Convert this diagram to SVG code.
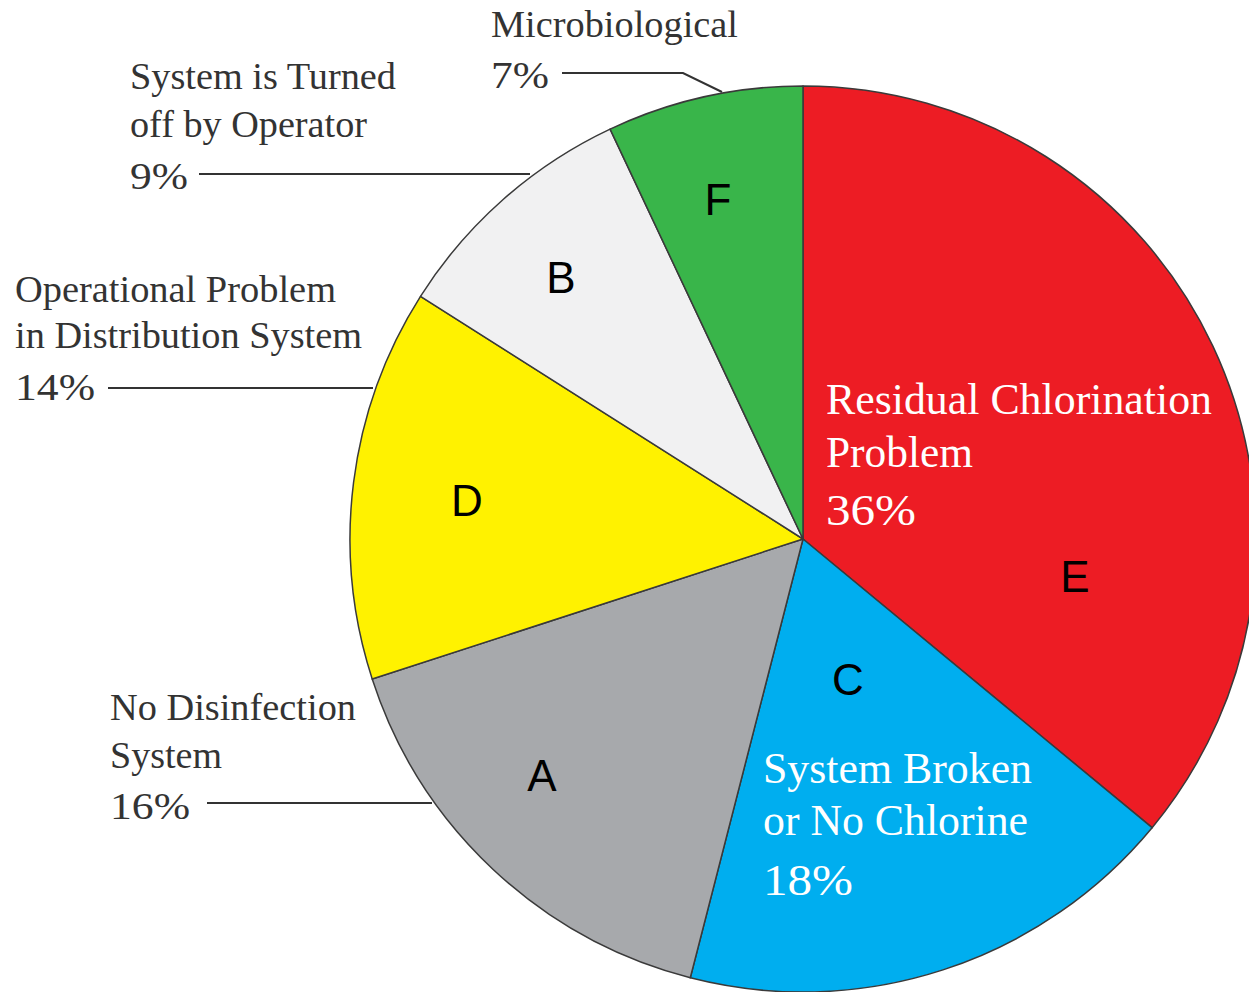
<svg xmlns="http://www.w3.org/2000/svg" width="1249" height="992" viewBox="0 0 1249 992">
<style>
.sl{stroke:#3a3a3a;stroke-width:1.5;stroke-linejoin:round}
.lbl{font-family:"Liberation Serif","Times New Roman",serif;font-size:38px;fill:#333333}
.in{font-family:"Liberation Serif","Times New Roman",serif;font-size:44px;fill:#ffffff}
.let{font-family:"Liberation Sans",Arial,sans-serif;font-size:44px;fill:#000000;text-anchor:middle}
.ld{fill:none;stroke:#333333;stroke-width:2}
</style>
<rect width="1249" height="992" fill="#ffffff"/>
<g id="slice-E">
<path class="sl" fill="#ED1C24" d="M803,539 L803,86 A453,453 0 0 1 1152.1,827.7 Z"/>
<text class="let" x="1075" y="592">E</text>
<text class="in" x="826" y="414" textLength="386" lengthAdjust="spacingAndGlyphs">Residual Chlorination</text>
<text class="in" x="826" y="467" textLength="147" lengthAdjust="spacingAndGlyphs">Problem</text>
<text class="in" x="826" y="525" textLength="90" lengthAdjust="spacingAndGlyphs">36%</text>
</g>
<g id="slice-C">
<path class="sl" fill="#00AEEF" d="M803,539 L1152.1,827.7 A453,453 0 0 1 690.3,977.8 Z"/>
<text class="let" x="848" y="695">C</text>
<text class="in" x="763" y="783" textLength="269" lengthAdjust="spacingAndGlyphs">System Broken</text>
<text class="in" x="763" y="835" textLength="265" lengthAdjust="spacingAndGlyphs">or No Chlorine</text>
<text class="in" x="763" y="895" textLength="90" lengthAdjust="spacingAndGlyphs">18%</text>
</g>
<g id="slice-A">
<path class="sl" fill="#A7A9AC" d="M803,539 L690.3,977.8 A453,453 0 0 1 372.2,679 Z"/>
<text class="let" x="542" y="791">A</text>
</g>
<g id="slice-D">
<path class="sl" fill="#FFF200" d="M803,539 L372.2,679 A453,453 0 0 1 420.5,296.3 Z"/>
<text class="let" x="467" y="516">D</text>
</g>
<g id="slice-B">
<path class="sl" fill="#F1F1F2" d="M803,539 L420.5,296.3 A453,453 0 0 1 610.1,129.1 Z"/>
<text class="let" x="561" y="293">B</text>
</g>
<g id="slice-F">
<path class="sl" fill="#39B54A" d="M803,539 L610.1,129.1 A453,453 0 0 1 803,86 Z"/>
<text class="let" x="718" y="215">F</text>
</g>
<g id="connectors">
<polyline class="ld" points="562,73 683,73 722,92"/>
<line class="ld" x1="199" y1="174" x2="530" y2="174"/>
<line class="ld" x1="108" y1="388" x2="373" y2="388"/>
<line class="ld" x1="207" y1="803" x2="432" y2="803"/>
</g>
<g id="label-F">
<text class="lbl" x="491" y="37" textLength="247" lengthAdjust="spacingAndGlyphs">Microbiological</text>
<text class="lbl" x="491" y="88" textLength="58" lengthAdjust="spacingAndGlyphs">7%</text>
</g>
<g id="label-B">
<text class="lbl" x="130" y="89" textLength="266" lengthAdjust="spacingAndGlyphs">System is Turned</text>
<text class="lbl" x="130" y="137" textLength="237" lengthAdjust="spacingAndGlyphs">off by Operator</text>
<text class="lbl" x="130" y="189" textLength="58" lengthAdjust="spacingAndGlyphs">9%</text>
</g>
<g id="label-D">
<text class="lbl" x="15" y="302" textLength="321" lengthAdjust="spacingAndGlyphs">Operational Problem</text>
<text class="lbl" x="15" y="348" textLength="347" lengthAdjust="spacingAndGlyphs">in Distribution System</text>
<text class="lbl" x="15" y="400" textLength="80" lengthAdjust="spacingAndGlyphs">14%</text>
</g>
<g id="label-A">
<text class="lbl" x="110" y="720" textLength="246" lengthAdjust="spacingAndGlyphs">No Disinfection</text>
<text class="lbl" x="110" y="768" textLength="112" lengthAdjust="spacingAndGlyphs">System</text>
<text class="lbl" x="110" y="819" textLength="80" lengthAdjust="spacingAndGlyphs">16%</text>
</g>
</svg>
